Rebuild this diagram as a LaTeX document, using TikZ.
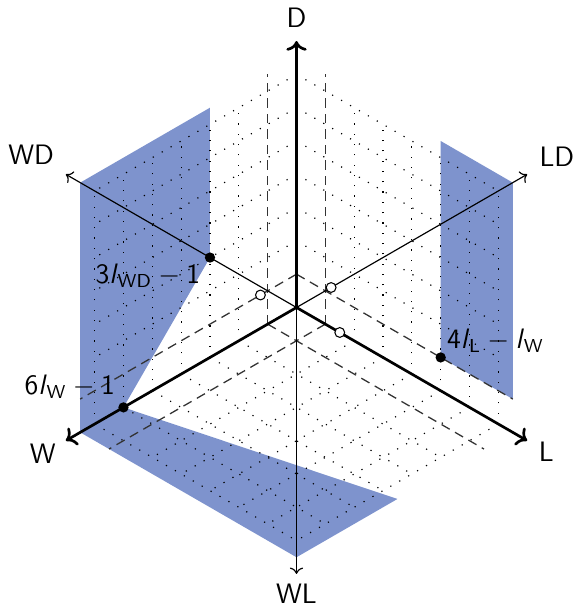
\documentclass[tikz,border=0pt]{standalone}
\usepackage{tikz}
\usetikzlibrary{arrows.meta, positioning}
\definecolor{mRegion}{HTML}{7E93CD}
\definecolor{mGuide}{HTML}{333333}
\newcommand{\lvar}[1]{\textsl{l}\textsubscript{#1}}

\begin{document}
\begin{tikzpicture}[x={(-0.433cm,-0.25cm)}, y={(0.433cm,-0.25cm)}, z={(0cm,0.5cm)},
    every node/.style={font=\sffamily\large},
    gridline/.style={black, line width=0.5pt, dash pattern=on 0.5pt off 3.9pt},
    guideline/.style={mGuide, line width=0.55pt, dash pattern=on 4pt off 2.6pt},
    mainaxis/.style={-{To}, line width=1.15pt},
    sideaxis/.style={-{To}, line width=0.5pt},
    corner/.style={circle, fill=black, inner sep=0pt, minimum size=4.4pt},
    hollow/.style={circle, draw=black, fill=white, line width=0.45pt, inner sep=0pt, minimum size=4.2pt}]
  \useasboundingbox (-4.452cm,-4.497cm) rectangle (4.212cm,4.617cm);

  \fill[mRegion] (3,0,7.5) -- (7.5,0,7.5) -- (7.5,0,0) -- (7.5,7.5,0) -- (4,7.5,0) -- (6,0,0) -- (3,0,3) -- cycle;
  \fill[mRegion] (0,5,7.5) -- (0,7.5,7.5) -- (0,7.5,1) -- (0,5,1) -- cycle;

  \foreach \k in {2,...,7} {
    \draw[gridline] (\k,0,0) -- (\k,0,7);
    \draw[gridline] (0,0,\k) -- (7,0,\k);
    \draw[gridline] (0,\k,0) -- (0,\k,7);
    \draw[gridline] (0,0,\k) -- (0,7,\k);
    \draw[gridline] (\k,0,0) -- (\k,7,0);
    \draw[gridline] (0,\k,0) -- (7,\k,0);
  }
  \draw[guideline] (1,0,0) -- (1,0,7.5);
  \draw[guideline] (0,0,1) -- (7.5,0,1);
  \draw[guideline] (0,1,0) -- (0,1,7.5);
  \draw[guideline] (0,0,1) -- (0,7.5,1);
  \draw[guideline] (1,0,0) -- (1,7.5,0);
  \draw[guideline] (0,1,0) -- (7.5,1,0);

  \coordinate (O) at (0,0,0);
  \coordinate (tW) at (8,0,0);
  \coordinate (tL) at (0,8,0);
  \coordinate (tD) at (0,0,8);
  \coordinate (tWD) at (8,0,8);
  \coordinate (tLD) at (0,8,8);
  \coordinate (tWL) at (8,8,0);
  \draw[sideaxis] (O) -- (tWD);
  \draw[sideaxis] (O) -- (tLD);
  \draw[sideaxis] (O) -- (tWL);
  \draw[mainaxis] (O) -- (tW);
  \draw[mainaxis] (O) -- (tL);
  \draw[mainaxis] (O) -- (tD);

  \node (nD) at (0,0,8.7) {D};
  \node (nW) at (8.8,0,0) {W};
  \node (nL) at (0,8.66,0) {L};
  \node (nWD) at (9.2,0,9.2) {WD};
  \node (nLD) at (0,9.03,9.03) {LD};
  \node (nWL) at (8.6,8.6,0) {WL};

  \node[hollow] (qWD) at (1.25,0,1) {};
  \node[hollow] (qLD) at (0,1.2,1.2) {};
  \node[hollow] (qL) at (0,1.5,0) {};
  \node[corner] (pWD) at (3,0,3) {};
  \node[corner] (pW) at (6,0,0) {};
  \node[corner] (pL) at (0,5,1) {};

  \node[anchor=north east, inner sep=1pt, xshift=-3pt, yshift=-1.5pt] (tagWD) at (pWD) {3\lvar{WD}${}-{}$1};
  \node[anchor=south east, inner sep=0.5pt, xshift=-3pt, yshift=3pt] (tagW) at (pW) {6\lvar{W}${}-{}$1};
  \node[anchor=south west, inner sep=0.5pt, xshift=2pt, yshift=1.5pt] (tagL) at (pL) {4\lvar{L}${}-{}$\lvar{W}};
\end{tikzpicture}
\end{document}
